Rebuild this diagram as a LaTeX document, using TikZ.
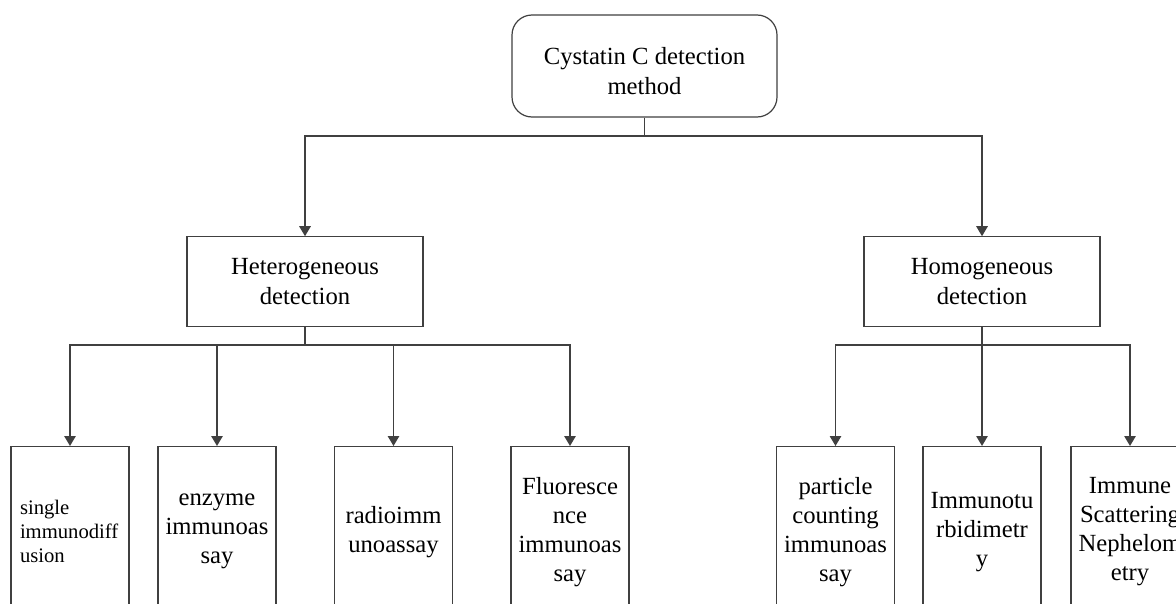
\documentclass[tikz,border=0pt]{standalone}
\usepackage{fontspec}
\setmainfont{Liberation Serif}
\usetikzlibrary{arrows.meta}
\definecolor{ln}{HTML}{404040}
\begin{document}
\begin{tikzpicture}[x=0.75pt,y=-0.75pt,
  box/.style={draw=ln, line width=0.9pt, fill=white, inner sep=0pt, align=center, font=\fontsize{18.5}{21.75}\selectfont},
  topbox/.style={box, rounded corners=15pt, minimum width=198.75pt, minimum height=76.5pt, font=\fontsize{18.5}{22.5}\selectfont},
  midbox/.style={box, minimum width=177pt, minimum height=67pt, font=\fontsize{18.5}{22}\selectfont},
  leaf/.style={box, anchor=north, minimum width=88.5pt, minimum height=127.5pt},
  conn/.style={draw=ln, line width=1.3pt},
  arr/.style={conn, -{Triangle[length=7.5pt,width=8.5pt]}}]
\useasboundingbox (0,0) rectangle (1176,603);
\clip (0,0) rectangle (1176,603);
\fill[white] (0,0) rectangle (1176,603);

\node[topbox] (top) at (644.5,66) {\raisebox{-3.5pt}[\height][\depth]{\parbox{190pt}{\centering Cystatin C detection\\method}}};
\node[midbox] (het) at (305,281.5) {Heterogeneous\\detection};
\node[midbox] (hom) at (982,281.5) {Homogeneous\\detection};

\node[leaf, align=left, text width=75pt, inner xsep=6.75pt, font=\fontsize{15.5}{18}\selectfont] (b1) at (70,446) {single\\immunodiff\\usion};
\node[leaf] (b2) at (217,446) {enzyme\\immunoas\\say};
\node[leaf] (b3) at (393.5,446) {radioimm\\unoassay};
\node[leaf] (b4) at (570,446) {Fluoresce\\nce\\immunoas\\say};
\node[leaf] (b5) at (835.5,446) {particle\\counting\\immunoas\\say};
\node[leaf] (b6) at (982,446) {Immunotu\\rbidimetr\\y};
\node[leaf] (b7) at (1130,446) {Immune\\Scattering\\Nephelom\\etry};

\coordinate (tj) at (644.5,136);
\coordinate (lj) at (305,345);
\coordinate (rj) at (982,345);

\draw[conn] (top.south) -- (tj);
\draw[arr] (tj) -| (het.north);
\draw[arr] (tj) -| (hom.north);

\draw[conn] (het.south) -- (lj);
\draw[arr] (lj) -| (b1.north);
\draw[arr] (lj) -| (b2.north);
\draw[arr] (lj) -| (b3.north);
\draw[arr] (lj) -| (b4.north);

\draw[conn] (hom.south) -- (rj);
\draw[arr] (rj) -| (b5.north);
\draw[arr] (rj) -| (b6.north);
\draw[arr] (rj) -| (b7.north);
\end{tikzpicture}
\end{document}
